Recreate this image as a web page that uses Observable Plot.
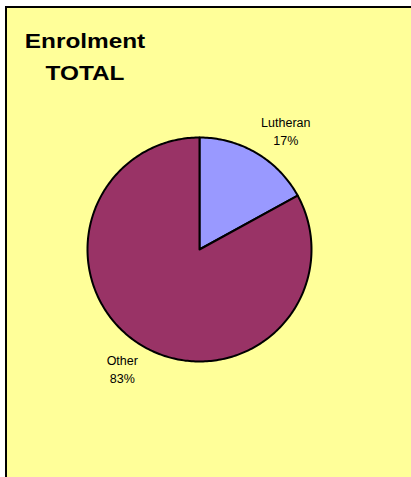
<!DOCTYPE html>
<html><head><meta charset="utf-8">
<script src="https://cdn.jsdelivr.net/npm/d3@7"></script>
<script src="https://cdn.jsdelivr.net/npm/@observablehq/plot@0.6"></script>
<style>
html,body{margin:0;padding:0;background:#fff;}
#wrap{position:relative;width:411px;height:477px;overflow:hidden;font-family:"Liberation Sans",Arial,sans-serif;}
#panel{position:absolute;left:5px;top:6px;width:430px;height:490px;background:#FFFF99;border-left:2px solid #000;border-top:2px solid #000;}
.t{position:absolute;left:0;width:170px;text-align:center;font-weight:bold;font-size:21px;line-height:21px;transform:scaleX(1.16);transform-origin:85px 0;color:#000;white-space:nowrap;}
#chart{position:absolute;left:0;top:0;}
</style>
</head><body>
<div id="wrap">
  <div id="panel"></div>
  <div class="t" style="top:30px">Enrolment</div>
  <div class="t" style="top:62px">TOTAL</div>
  <div id="chart"></div>
</div>
<script>
const categories = ["Lutheran", "Other"];
const values = [17, 83];
const percentLabels = ["17%", "83%"];
const colors = ["#9999FF", "#993366"];

const R_PX = 112;
const total = d3.sum(values);
let acc = 0;
const slices = categories.map((name, i) => {
  const a0 = acc / total * 2 * Math.PI;
  acc += values[i];
  const a1 = acc / total * 2 * Math.PI;
  const pts = [{x: 0, y: 0}];
  const n = Math.max(2, Math.ceil((a1 - a0) / (Math.PI / 180)));
  for (let k = 0; k <= n; k++) {
    const a = a0 + (a1 - a0) * k / n;
    pts.push({x: Math.sin(a), y: Math.cos(a)});
  }
  pts.push({x: 0, y: 0});
  return {name, color: colors[i], a0, a1, pts};
});

// label positions: outside end, box offset like spreadsheet labels
const ctx = document.createElement("canvas").getContext("2d");
ctx.font = "12.5px 'Liberation Sans'";
const labels = slices.map((s, i) => {
  const text = s.name + "\n" + percentLabels[i];
  const w = Math.max(ctx.measureText(s.name).width, ctx.measureText(percentLabels[i]).width);
  const h = 30;
  const m = (s.a0 + s.a1) / 2;
  const ux = Math.sin(m), uy = Math.cos(m);
  const r = 1 + 9 / R_PX;
  return {
    text,
    x: r * ux + Math.sign(ux) * (w / 2) / R_PX,
    y: r * uy + Math.sign(uy) * (h / 2) / R_PX
  };
});

const chart = Plot.plot({
  width: 411,
  height: 477,
  marginLeft: 87,
  marginRight: 100,
  marginTop: 137,
  marginBottom: 116,
  x: {domain: [-1, 1], axis: null},
  y: {domain: [-1, 1], axis: null},
  style: {background: "transparent", overflow: "visible", fontFamily: "'Liberation Sans', Arial, sans-serif"},
  marks: [
    ...slices.map(s => Plot.line(s.pts, {x: "x", y: "y", fill: s.color, stroke: "#000", strokeWidth: 2, strokeLinejoin: "round", curve: "linear"})),
    Plot.text(labels, {x: "x", y: "y", text: "text", fontSize: 12.5, lineHeight: 1.44, fill: "#000", lineAnchor: "middle"})
  ]
});
document.getElementById("chart").appendChild(chart);
</script>
</body></html>
